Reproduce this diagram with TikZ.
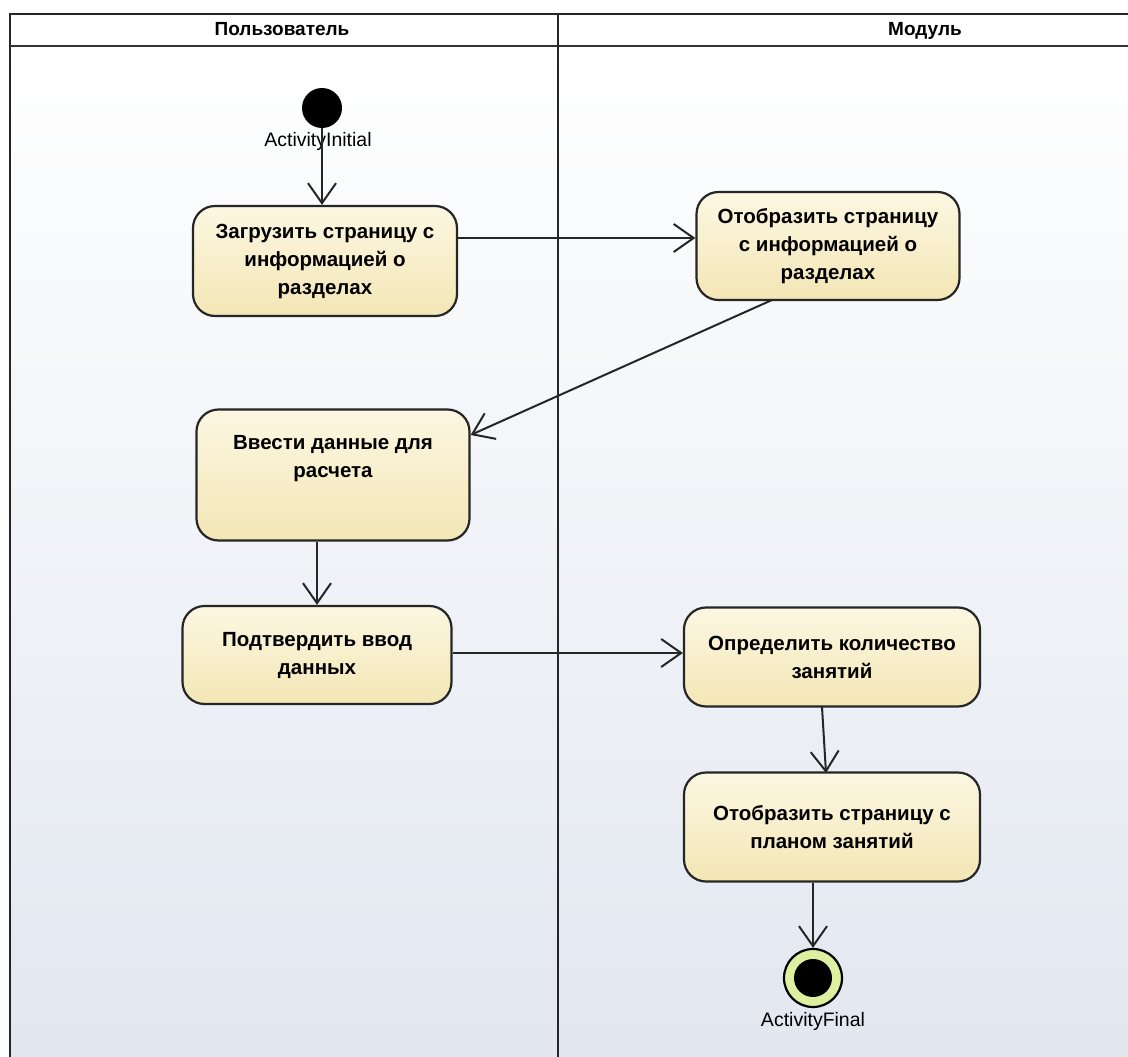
\documentclass[tikz,border=0pt]{standalone}
\usepackage{fontspec}
\setmainfont{Liberation Sans}
\usetikzlibrary{arrows.meta,shapes.geometric}
\definecolor{boxtop}{HTML}{FCF7E2}
\definecolor{boxbot}{HTML}{F3E6B5}
\definecolor{ringg}{HTML}{DDF0A0}
\tikzset{
  act/.style={draw=black!85, line width=2.2pt, rounded corners=22pt,
    top color=boxtop, bottom color=boxbot, align=center,
    font=\bfseries\fontsize{20.5}{28}\selectfont, inner sep=0pt},
  flow/.style={draw=black!85, line width=2pt,
    -{Straight Barb[length=20pt,width=28pt,line width=2pt]}},
  lbl/.style={font=\fontsize{19.5}{22}\selectfont, inner sep=0pt},
  hdr/.style={font=\bfseries\fontsize{19}{22}\selectfont, inner sep=0pt, anchor=base},
}
\begin{document}
\begin{tikzpicture}[x=1pt,y=-1pt]
\useasboundingbox (0,0) rectangle (1128,1057);
\fill[white] (0,0) rectangle (1128,1057);
% swimlane background
\shade[top color=white, bottom color={rgb,255:red,226;green,231;blue,240}] (10,46) rectangle (1128,1057);
\fill[white] (10,14) rectangle (1128,46);
\draw[line width=2pt, black!85] (10,1057) -- (10,14) -- (1128,14);
\draw[line width=2.5pt, black!80] (10,46) -- (1128,46);
\draw[line width=2pt, black!85] (558,14) -- (558,1057);
\node[hdr] (h1) at (282,36) {Пользователь};
\node[hdr] (h2) at (925,36) {Модуль};
% initial
\node[circle, fill=black, minimum size=40pt, inner sep=0pt] (init) at (322,108) {};
\node[lbl] (initl) at (318,141) {ActivityInitial};
% actions
\node[act, minimum width=264pt, minimum height=110pt] (b1) at (325,261) {Загрузить страницу с\\информацией о\\разделах};
\node[act, minimum width=263pt, minimum height=108pt] (b2) at (828,246) {Отобразить страницу\\с информацией о\\разделах};
\node[act, minimum width=273pt, minimum height=131pt] (b3) at (333,475) {Ввести данные для\\расчета\\ \strut};
\node[act, minimum width=269pt, minimum height=98pt] (b4) at (317,655) {Подтвердить ввод\\данных};
\node[act, minimum width=296pt, minimum height=99pt] (b5) at (832,657) {Определить количество\\занятий};
\node[act, minimum width=296pt, minimum height=109pt] (b6) at (832,827) {Отобразить страницу с\\планом занятий};
% final
\node[circle, draw=black, line width=2.2pt, fill=ringg, minimum size=58pt, inner sep=0pt] (fin) at (813,978) {};
\node[circle, fill=black, minimum size=38pt, inner sep=0pt] (finin) at (fin) {};
\node[lbl] (finl) at (813,1021) {ActivityFinal};
% flows
\draw[flow] (init.south) -- (b1.north -| init);
\draw[flow] (b1.east |- 0,238) -- (b2.west |- 0,238);
\draw[flow] (772,300) coordinate (c2) -- (b3.east |- 0,435);
\draw[flow] (b3.south -| b4) -- (b4.north);
\draw[flow] (b4.east |- 0,653) -- (b5.west |- 0,653);
\draw[flow] (822,707) coordinate (c5) -- (826,773) coordinate (c6);
\draw[flow] (b6.south -| fin) -- (fin.north);
\end{tikzpicture}
\end{document}
